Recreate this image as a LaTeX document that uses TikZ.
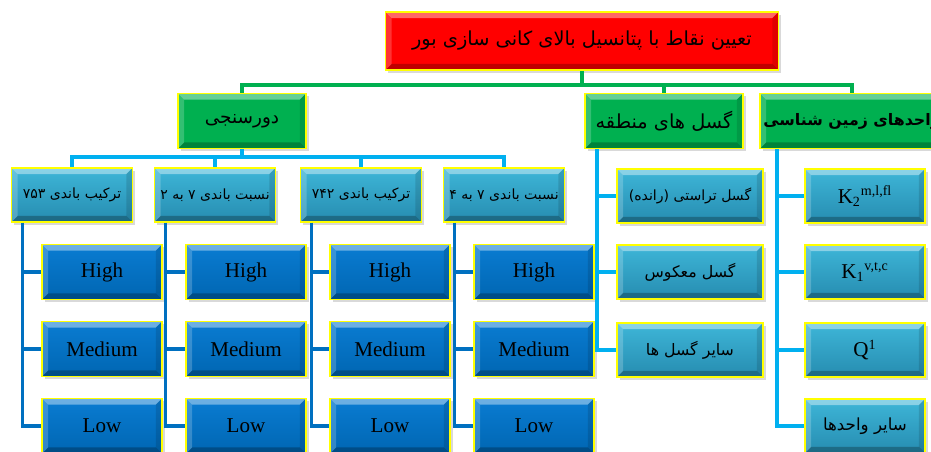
\documentclass[tikz,border=0pt]{standalone}
\usepackage{fontspec}
\setmainfont{Liberation Serif}
\newfontfamily\farsi[Script=Arabic]{DejaVu Sans}
\TeXXeTstate=1
\usetikzlibrary{shadows}
\definecolor{titlered}{RGB}{255,0,0}
\definecolor{boxgreen}{RGB}{0,176,80}
\definecolor{boxtealtop}{RGB}{62,182,216}
\definecolor{boxtealbot}{RGB}{38,140,176}
\definecolor{boxbluetop}{RGB}{10,124,210}
\definecolor{boxbluebot}{RGB}{0,102,178}
\definecolor{linesky}{RGB}{0,176,240}
\definecolor{linedark}{RGB}{0,112,192}
\definecolor{edgeyellow}{RGB}{255,255,0}
\newcommand{\fa}[1]{{\farsi\beginR #1\endR}}

\begin{document}
\begin{tikzpicture}[x=0.02cm, y=-0.02cm,
    bevel/.style={path picture={
        \fill[white,opacity=0.40] (path picture bounding box.north west) -- (path picture bounding box.north east)
            -- ([xshift=-3.5pt,yshift=-3.5pt]path picture bounding box.north east) -- ([xshift=3.5pt,yshift=-3.5pt]path picture bounding box.north west) -- cycle;
        \fill[white,opacity=0.20] (path picture bounding box.north west) -- (path picture bounding box.south west)
            -- ([xshift=3.5pt,yshift=3.5pt]path picture bounding box.south west) -- ([xshift=3.5pt,yshift=-3.5pt]path picture bounding box.north west) -- cycle;
        \fill[black,opacity=0.25] (path picture bounding box.south west) -- (path picture bounding box.south east)
            -- ([xshift=-3.5pt,yshift=3.5pt]path picture bounding box.south east) -- ([xshift=3.5pt,yshift=3.5pt]path picture bounding box.south west) -- cycle;
        \fill[black,opacity=0.12] (path picture bounding box.north east) -- (path picture bounding box.south east)
            -- ([xshift=-3.5pt,yshift=3.5pt]path picture bounding box.south east) -- ([xshift=-3.5pt,yshift=-3.5pt]path picture bounding box.north east) -- cycle;
    }},
    card/.style={rectangle, draw=edgeyellow, line width=1pt, inner sep=1pt, bevel,
        drop shadow={shadow xshift=1.5pt, shadow yshift=-1.5pt, opacity=0.3}},
    titlebox/.style={card, fill=titlered, minimum width=7.86cm, minimum height=1.16cm, font=\fontsize{11}{13}\selectfont},
    groupbox/.style={card, fill=boxgreen, minimum height=1.1cm, font=\fontsize{11}{13}\selectfont},
    bandbox/.style={card, top color=boxtealtop, bottom color=boxtealbot, minimum width=2.42cm, minimum height=1.08cm, font=\fontsize{8}{10}\selectfont},
    unitbox/.style={card, top color=boxtealtop, bottom color=boxtealbot, minimum width=2.4cm, minimum height=1.08cm, font=\fontsize{12}{14}\selectfont},
    faultbox/.style={card, top color=boxtealtop, bottom color=boxtealbot, minimum width=2.92cm, minimum height=1.08cm, font=\fontsize{9}{11}\selectfont},
    levelbox/.style={card, top color=boxbluetop, bottom color=boxbluebot, minimum width=2.4cm, minimum height=1.1cm, font=\fontsize{12}{14}\selectfont},
    gline/.style={draw=boxgreen, line width=2pt},
    sline/.style={draw=linesky, line width=2pt},
    dline/.style={draw=linedark, line width=2pt}
]
    \clip (0,0) rectangle (931,452);

    \node[titlebox] (title) at (582,41) {\fa{تعیین نقاط با پتانسیل بالای کانی سازی بور}};

    \node[groupbox, minimum width=2.56cm, font=\fontsize{10.5}{13}\selectfont] (remote) at (242,121) {\fa{دورسنجی}};
    \node[groupbox, minimum width=3.16cm] (faults) at (664,121) {\fa{گسل های منطقه}};
    \node[groupbox, minimum width=3.68cm, font=\fontsize{9}{11}\selectfont\bfseries] (geology) at (852,121) {\fa{واحدهای زمین شناسی}};

    \node[bandbox] (band753) at (72,195) {\fa{ترکیب باندی ۷۵۳}};
    \node[bandbox] (ratio72) at (215,195) {\fa{نسبت باندی ۷ به ۲}};
    \node[bandbox] (band742) at (361,195) {\fa{ترکیب باندی ۷۴۲}};
    \node[bandbox] (ratio74) at (504,195) {\fa{نسبت باندی ۷ به ۴}};

    \node[levelbox] (high1) at (102,272) {High};
    \node[levelbox] (med1) at (102,349) {Medium};
    \node[levelbox] (low1) at (102,426) {Low};
    \node[levelbox] (high2) at (246,272) {High};
    \node[levelbox] (med2) at (246,349) {Medium};
    \node[levelbox] (low2) at (246,426) {Low};
    \node[levelbox] (high3) at (390,272) {High};
    \node[levelbox] (med3) at (390,349) {Medium};
    \node[levelbox] (low3) at (390,426) {Low};
    \node[levelbox] (high4) at (534,272) {High};
    \node[levelbox] (med4) at (534,349) {Medium};
    \node[levelbox] (low4) at (534,426) {Low};

    \node[faultbox, font=\fontsize{8}{10}\selectfont] (thrust) at (690,196) {\fa{گسل تراستی (رانده)}};
    \node[faultbox] (reverse) at (690,272) {\fa{گسل معکوس}};
    \node[faultbox] (otherfault) at (690,350) {\fa{سایر گسل ها}};

    \node[unitbox] (k2) at (865,196) {K\textsubscript{2}\textsuperscript{m,l,fl}};
    \node[unitbox] (k1) at (865,272) {K\textsubscript{1}\textsuperscript{v,t,c}};
    \node[unitbox] (q1) at (865,350) {Q\textsuperscript{1}};
    \node[unitbox, font=\fontsize{9.5}{11}\selectfont] (otherunit) at (865,426) {\fa{سایر واحدها}};

    \draw[gline] (title.south) -- (title.south |- 0,85) -| (remote.north);
    \draw[gline] (title.south |- 0,85) -| (faults.north);
    \draw[gline] (title.south |- 0,85) -| (geology.north);

    \draw[sline] (remote.south) -- (remote.south |- 0,157) -| (band753.north);
    \draw[sline] (remote.south |- 0,157) -| (ratio72.north);
    \draw[sline] (remote.south |- 0,157) -| (band742.north);
    \draw[sline] (remote.south |- 0,157) -| (ratio74.north);

    \draw[dline] ([xshift=0.24cm]band753.south west) |- (high1.west);
    \draw[dline] ([xshift=0.24cm]band753.south west) |- (med1.west);
    \draw[dline] ([xshift=0.24cm]band753.south west) |- (low1.west);
    \draw[dline] ([xshift=0.24cm]ratio72.south west) |- (high2.west);
    \draw[dline] ([xshift=0.24cm]ratio72.south west) |- (med2.west);
    \draw[dline] ([xshift=0.24cm]ratio72.south west) |- (low2.west);
    \draw[dline] ([xshift=0.24cm]band742.south west) |- (high3.west);
    \draw[dline] ([xshift=0.24cm]band742.south west) |- (med3.west);
    \draw[dline] ([xshift=0.24cm]band742.south west) |- (low3.west);
    \draw[dline] ([xshift=0.24cm]ratio74.south west) |- (high4.west);
    \draw[dline] ([xshift=0.24cm]ratio74.south west) |- (med4.west);
    \draw[dline] ([xshift=0.24cm]ratio74.south west) |- (low4.west);

    \draw[sline] ([xshift=0.26cm]faults.south west) |- (thrust.west);
    \draw[sline] ([xshift=0.26cm]faults.south west) |- (reverse.west);
    \draw[sline] ([xshift=0.26cm]faults.south west) |- (otherfault.west);

    \draw[sline] ([xshift=0.36cm]geology.south west) |- (k2.west);
    \draw[sline] ([xshift=0.36cm]geology.south west) |- (k1.west);
    \draw[sline] ([xshift=0.36cm]geology.south west) |- (q1.west);
    \draw[sline] ([xshift=0.36cm]geology.south west) |- (otherunit.west);
\end{tikzpicture}
\end{document}
